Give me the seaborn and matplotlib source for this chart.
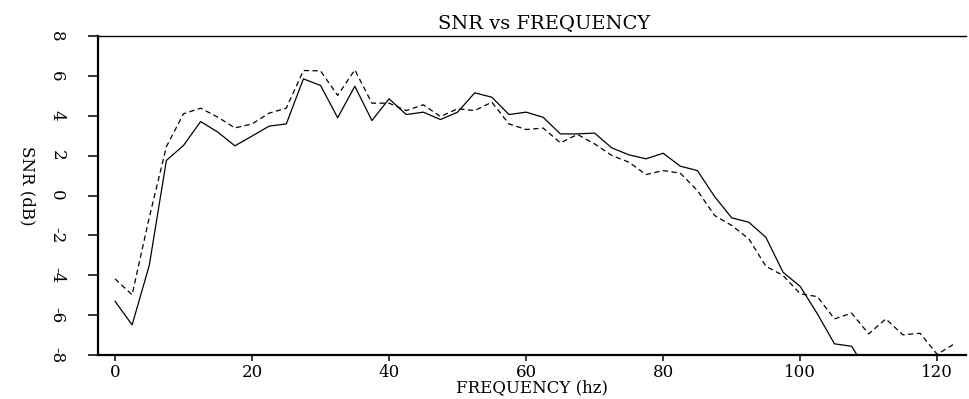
import numpy as np
import pandas as pd
import matplotlib
matplotlib.use("Agg")
import matplotlib.pyplot as plt
import seaborn as sns

# Frequency samples (Hz), every 2.5 Hz
freq = [i * 2.5 for i in range(50)]

# SNR in dB, solid curve (runs off the bottom of the axis past ~108 Hz)
snr_solid = [
    -5.30, -6.49, -3.51, 1.76, 2.51, 3.71, 3.18, 2.49, 2.98, 3.48,
    3.59, 5.85, 5.52, 3.90, 5.48, 3.76, 4.85, 4.06, 4.18, 3.81,
    4.18, 5.15, 4.93, 4.06, 4.18, 3.92, 3.09, 3.09, 3.13, 2.39,
    2.04, 1.84, 2.12, 1.47, 1.25, -0.05, -1.12, -1.34, -2.10, -3.85,
    -4.56, -5.93, -7.44, -7.56, -8.94, np.nan, np.nan, np.nan, np.nan, np.nan,
]

# SNR in dB, dashed curve
snr_dashed = [
    -4.18, -4.98, -1.10, 2.45, 4.10, 4.38, 3.93, 3.39, 3.59, 4.13,
    4.38, 6.27, 6.25, 5.02, 6.30, 4.63, 4.63, 4.26, 4.55, 3.96,
    4.35, 4.26, 4.68, 3.59, 3.31, 3.38, 2.64, 3.06, 2.59, 2.01,
    1.67, 1.05, 1.25, 1.12, 0.25, -1.00, -1.50, -2.17, -3.55, -4.01,
    -4.93, -5.07, -6.19, -5.90, -6.94, -6.19, -6.99, -6.91, -7.97, -7.44,
]

x_ticks = [0, 20, 40, 60, 80, 100, 120]
y_ticks = [-8, -6, -4, -2, 0, 2, 4, 6, 8]

df = pd.DataFrame({
    "freq": freq * 2,
    "snr": snr_solid + snr_dashed,
    "curve": ["solid"] * len(freq) + ["dashed"] * len(freq),
})

sns.set_style("ticks")
plt.rcParams["font.family"] = ["DejaVu Serif", "DejaVu Sans"]

fig = plt.figure(figsize=(9.69, 3.99), dpi=100)
ax = fig.add_axes([98 / 969, 1 - 355 / 399, (966 - 98) / 969, (355 - 36) / 399])

sns.lineplot(
    data=df, x="freq", y="snr", style="curve",
    style_order=["solid", "dashed"],
    dashes={"solid": "", "dashed": (4.2, 2.8)},
    color="black", linewidth=0.9, legend=False, ax=ax,
)

ax.set_xlim(-2.48, 124.2)
ax.set_ylim(-8, 8)
ax.set_xticks(x_ticks)
ax.set_yticks(y_ticks)
ax.set_xticklabels([str(t) for t in x_ticks], fontsize=12)
ax.set_yticklabels([str(t) for t in y_ticks], fontsize=12, rotation=270,
                   va="center")

ax.spines["right"].set_visible(False)
ax.spines["left"].set_linewidth(1.6)
ax.spines["bottom"].set_linewidth(1.6)
ax.spines["top"].set_linewidth(1.0)
for s in ax.spines.values():
    s.set_color("black")

ax.tick_params(axis="y", direction="out", length=7.5, width=1.1, pad=16,
               colors="black")
ax.tick_params(axis="x", direction="out", length=4.5, width=1.1, pad=2,
               colors="black")

ax.set_xlabel("FREQUENCY (hz)", fontsize=12, labelpad=-1, color="black")
ax.set_ylabel("SNR (dB)", fontsize=12, rotation=270, va="center",
              color="black")
ax.yaxis.set_label_coords(-71 / 868, 0.53)
ax.set_title("SNR vs FREQUENCY", fontsize=14, x=0.514, pad=6, color="black")

fig.savefig("out.png", dpi=100, facecolor="white")
